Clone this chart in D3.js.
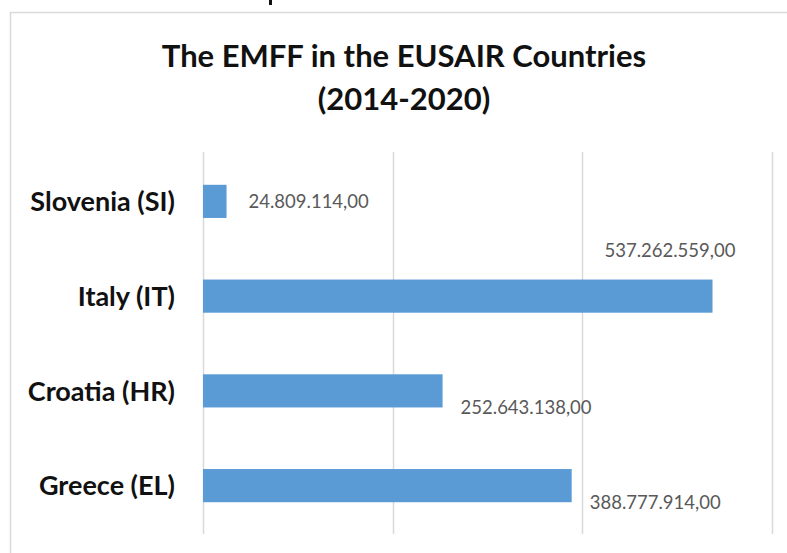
<!DOCTYPE html>
<html>
<head>
<meta charset="utf-8">
<script src="https://cdn.jsdelivr.net/npm/d3@7"></script>
<style>
  html, body { margin: 0; padding: 0; background: #fff; }
  svg { display: block; font-family: Lato, "Open Sans", sans-serif; }
</style>
</head>
<body>
<div id="chart"></div>
<script>
const countries = ["Slovenia (SI)", "Italy (IT)", "Croatia (HR)", "Greece (EL)"];
const emff = [24809114.00, 537262559.00, 252643138.00, 388777914.00];
const xTicks = [0, 200e6, 400e6, 600e6];
const titleLines = ["The EMFF in the EUSAIR Countries", "(2014-2020)"];

// where each data label sits relative to the bar end (dx) and bar centre (dy)
const labelOffsets = [[22, 0], [-108, -46], [18, 16.5], [18, 16.5]];

const width = 787, height = 553;

const svg = d3.select("#chart").append("svg")
    .attr("width", width)
    .attr("height", height);

svg.append("rect")
    .attr("width", width).attr("height", height)
    .attr("fill", "#fff");

// tail of a letter from the page above, cut off by the crop
svg.append("rect")
    .attr("x", 269).attr("y", 0)
    .attr("width", 3).attr("height", 5)
    .attr("fill", "#111");

// chart area border
svg.append("rect")
    .attr("x", 10.5).attr("y", 12.5)
    .attr("width", 820).attr("height", 600)
    .attr("fill", "#fff")
    .attr("stroke", "#d9d9d9")
    .attr("stroke-width", 1.5);

const title = svg.append("text")
    .attr("text-anchor", "middle")
    .style("font-weight", "bold")
    .style("font-size", "31px")
    .attr("fill", "#111");
title.selectAll("tspan")
    .data(titleLines)
    .join("tspan")
    .attr("x", 404)
    .attr("y", (d, i) => 67 + i * 43)
    .text(d => d);

const x = d3.scaleLinear()
    .domain([0, 600e6])
    .range([203, 772]);

const y = d3.scaleBand()
    .domain(countries)
    .range([154, 533])
    .paddingInner(0.65)
    .paddingOuter(0.325);

// vertical gridlines
svg.append("g")
    .selectAll("line")
    .data(xTicks)
    .join("line")
    .attr("x1", d => Math.round(x(d)) + 0.5)
    .attr("x2", d => Math.round(x(d)) + 0.5)
    .attr("y1", 152)
    .attr("y2", 534)
    .attr("stroke", "#d9d9d9")
    .attr("stroke-width", 1.5);

svg.append("g")
    .selectAll("rect")
    .data(emff)
    .join("rect")
    .attr("x", x(0))
    .attr("y", (d, i) => y(countries[i]))
    .attr("width", d => x(d) - x(0))
    .attr("height", y.bandwidth())
    .attr("fill", "#5b9bd5");

// category labels
svg.append("g")
    .selectAll("text")
    .data(countries)
    .join("text")
    .attr("x", 175)
    .attr("y", d => y(d) + y.bandwidth() / 2)
    .attr("dy", "0.36em")
    .attr("text-anchor", "end")
    .style("font-weight", "bold")
    .style("font-size", "27px")
    .attr("fill", "#111")
    .text(d => d);

const euro = d3.formatLocale({ decimal: ",", thousands: ".", grouping: [3], currency: ["", ""] });
const fmt = euro.format(",.2f");

svg.append("g")
    .selectAll("text")
    .data(emff)
    .join("text")
    .attr("x", (d, i) => x(d) + labelOffsets[i][0])
    .attr("y", (d, i) => y(countries[i]) + y.bandwidth() / 2 + labelOffsets[i][1])
    .attr("dy", "0.36em")
    .style("font-size", "18.5px")
    .attr("fill", "#595959")
    .text(d => fmt(d));
</script>
</body>
</html>
